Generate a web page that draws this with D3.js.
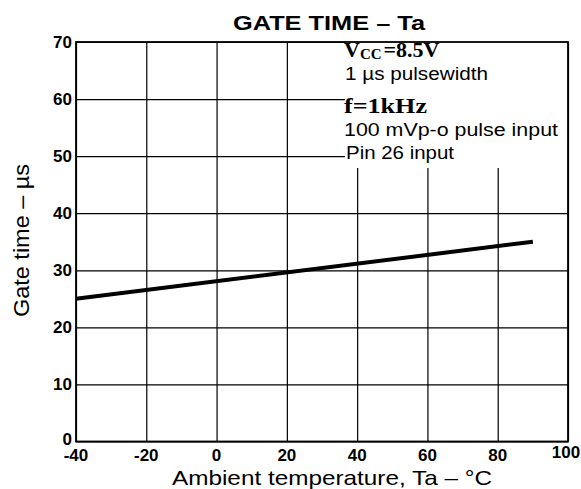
<!DOCTYPE html>
<html>
<head>
<meta charset="utf-8">
<script src="https://cdn.jsdelivr.net/npm/d3@7"></script>
<style>
  body { margin: 0; background: #fff; overflow: hidden; }
  text { font-family: "Liberation Sans", Arial, sans-serif; fill: #000; }
</style>
</head>
<body>
<div id="chart"></div>
<script>
var temps = [-40, 90];
var gateTimes = [25, 35];
var xTicks = [-40, -20, 0, 20, 40, 60, 80, 100];
var yTicks = [0, 10, 20, 30, 40, 50, 60, 70];
var noteLines = ["1 \u00b5s pulsewidth", "100 mVp-o pulse input", "Pin 26 input"];

function init() {
    var w = 581;
    var h = 489;
    var left = 76, top = 42, right = 568, bottom = 441.5;

    var xScale = d3.scaleLinear().domain([-40, 100]).range([left, right]);
    var yScale = d3.scaleLinear().domain([0, 70]).range([bottom, top]);

    var svg = d3.select("#chart")
                .append("svg")
                .attr("width", w)
                .attr("height", h);

    // grid
    svg.append("g")
       .attr("transform", "translate(0," + bottom + ")")
       .call(d3.axisBottom(xScale).tickValues(xTicks).tickSize(-(bottom - top)).tickFormat(""))
       .call(function(g) {
           g.select(".domain").remove();
           g.selectAll("line").attr("stroke", "#000").attr("stroke-width", 1.2);
       });

    svg.append("g")
       .attr("transform", "translate(" + left + ",0)")
       .call(d3.axisLeft(yScale).tickValues(yTicks).tickSize(-(right - left)).tickFormat(""))
       .call(function(g) {
           g.select(".domain").remove();
           g.selectAll("line").attr("stroke", "#000").attr("stroke-width", 1.2);
       });

    // white box behind the conditions text
    svg.append("rect")
       .attr("x", 345)
       .attr("y", top)
       .attr("width", right - 345)
       .attr("height", 126)
       .attr("fill", "#fff");

    // frame
    svg.append("rect")
       .attr("x", left)
       .attr("y", top)
       .attr("width", right - left)
       .attr("height", bottom - top)
       .attr("fill", "none")
       .attr("stroke", "#000")
       .attr("stroke-width", 1.8);

    // curve
    var line = d3.line()
                 .x(function(d, i) { return xScale(temps[i]); })
                 .y(function(d) { return yScale(d); });

    svg.append("path")
       .datum(gateTimes)
       .attr("d", line)
       .attr("fill", "none")
       .attr("stroke", "#000")
       .attr("stroke-width", 4);

    // tick labels
    svg.selectAll(".xlab")
       .data(xTicks)
       .enter()
       .append("text")
       .attr("class", "xlab")
       .attr("x", function(d) { return d === 100 ? xScale(d) - 2 : xScale(d); })
       .attr("y", function(d) { return d === 100 ? 458 : 461; })
       .attr("text-anchor", "middle")
       .style("font-size", "17px")
       .style("font-weight", "bold")
       .text(function(d) { return d < 0 ? "-" + Math.abs(d) : d; });

    svg.selectAll(".ylab")
       .data(yTicks)
       .enter()
       .append("text")
       .attr("class", "ylab")
       .attr("x", 72)
       .attr("y", function(d) { return yScale(d) + (d === 0 ? 3 : 6); })
       .attr("text-anchor", "end")
       .style("font-size", "17px")
       .style("font-weight", "bold")
       .text(function(d) { return d; });

    // title
    svg.append("text")
       .attr("x", 233)
       .attr("y", 30)
       .attr("textLength", 192)
       .attr("lengthAdjust", "spacingAndGlyphs")
       .style("font-size", "21px")
       .style("font-weight", "bold")
       .text("GATE TIME \u2013 Ta");

    // axis titles
    svg.append("text")
       .attr("x", 172)
       .attr("y", 485)
       .attr("textLength", 320)
       .attr("lengthAdjust", "spacingAndGlyphs")
       .style("font-size", "21px")
       .text("Ambient temperature, Ta \u2013  \u00b0C");

    svg.append("text")
       .attr("transform", "translate(29,241) rotate(-90)")
       .attr("x", -76)
       .attr("textLength", 153)
       .attr("lengthAdjust", "spacingAndGlyphs")
       .style("font-size", "22px")
       .text("Gate time \u2013 \u00b5s");

    // conditions
    var serif = "'Liberation Serif', 'DejaVu Serif', serif";
    var vcc = svg.append("text")
       .attr("x", 344)
       .attr("y", 57)
       .style("font-family", serif)
       .style("font-size", "22px")
       .style("font-weight", "bold");
    vcc.append("tspan").text("V");
    vcc.append("tspan").attr("dy", 2).style("font-size", "15px").text("CC");
    vcc.append("tspan").attr("dy", -2).attr("dx", 2).text("=8.5V");

    svg.append("text")
       .attr("x", 344)
       .attr("y", 113)
       .attr("textLength", 83)
       .attr("lengthAdjust", "spacingAndGlyphs")
       .style("font-family", serif)
       .style("font-size", "20px")
       .style("font-weight", "bold")
       .text("f=1kHz");

    var noteX = [345, 344, 346];
    var noteY = [80, 136, 159];
    var noteW = [143, 214, 108];
    svg.selectAll(".note")
       .data(noteLines)
       .enter()
       .append("text")
       .attr("class", "note")
       .attr("x", function(d, i) { return noteX[i]; })
       .attr("y", function(d, i) { return noteY[i]; })
       .attr("textLength", function(d, i) { return noteW[i]; })
       .attr("lengthAdjust", "spacingAndGlyphs")
       .style("font-size", "18px")
       .text(function(d) { return d; });
}

window.onload = init;
</script>
</body>
</html>
